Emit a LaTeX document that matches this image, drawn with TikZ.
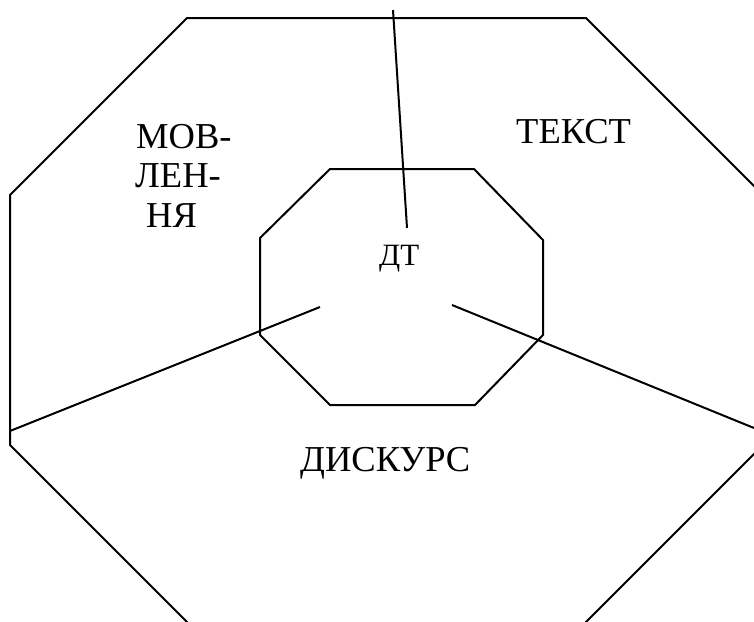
\documentclass[tikz,border=0pt]{standalone}
\usepackage{fontspec}
\setmainfont{Liberation Serif}
\begin{document}
\begin{tikzpicture}[x=1pt,y=-1pt,
  edge/.style={line width=2pt,line join=miter},
  bigtxt/.style={font=\fontsize{36.5}{40}\selectfont,inner sep=0pt,anchor=base west},
  smalltxt/.style={font=\fontsize{31}{36}\selectfont,inner sep=0pt,anchor=base west}]
\useasboundingbox (0,0) rectangle (754,621);
\begin{scope}
\clip (0,0) rectangle (754,621);
% outer octagon (visible part)
\draw[edge] (600,635) -- (573,635) -- (587,621) -- (754,454) -- (800,408);
\draw[edge] (800,232) -- (586,18) -- (187,18) -- (10,195) -- (10,445) -- (186,621) -- (200,635);
% inner octagon
\draw[edge] (330,169) -- (474,169) -- (543,240) -- (543,335) -- (475,405) -- (330,405) -- (260,335) -- (260,238) -- cycle;
% connector end points
\coordinate (top) at (393,10);
\coordinate (topin) at (407,228);
\coordinate (leftin) at (320,307);
\coordinate (leftout) at (10,431);
\coordinate (rightin) at (452,305);
\coordinate (rightout) at (754,428);
\draw[edge] (top) -- (topin);
\draw[edge] (leftin) -- (leftout);
\draw[edge] (rightin) -- (rightout);
\end{scope}
% labels
\node[bigtxt] (mov1) at (136,148) {МОВ-};
\node[bigtxt] (mov2) at (135,187) {ЛЕН-};
\node[bigtxt] (mov3) at (146,227) {НЯ};
\node[bigtxt] (tekst) at (516,143) {ТЕКСТ};
\node[smalltxt] (dt) at (379,265) {ДТ};
\node[bigtxt] (disk) at (300,471) {ДИСКУРС};
\end{tikzpicture}
\end{document}
